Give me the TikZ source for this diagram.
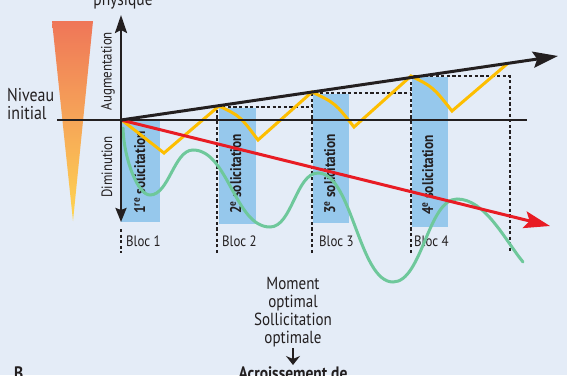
\documentclass[tikz,border=0pt]{standalone}
\usepackage{fontspec}
\setmainfont{PT Sans}[FakeStretch=0.86]
\usetikzlibrary{arrows.meta}
\definecolor{bg}{RGB}{228,236,247}
\definecolor{blocblue}{RGB}{150,200,236}
\definecolor{ink}{RGB}{35,31,32}
\definecolor{gold}{RGB}{253,190,0}
\definecolor{mint}{RGB}{110,200,155}
\definecolor{redline}{RGB}{232,28,36}
\definecolor{trtop}{RGB}{239,118,88}
\definecolor{trmid}{RGB}{246,166,88}
\definecolor{trbot}{RGB}{255,214,80}
\tikzset{
  blocrect/.style={fill=blocblue, draw=none},
  dashline/.style={draw=ink, line width=2.8pt, dash pattern=on 3.2pt off 2.4pt},
  sollabel/.style={rotate=90, text=ink, font=\bfseries\fontsize{15.5}{17}\selectfont, inner sep=0pt, anchor=base west},
  bloclabel/.style={text=ink, font=\fontsize{15}{17}\selectfont, inner sep=0pt, anchor=base west},
  axislabel/.style={rotate=90, text=ink, font=\fontsize{15}{17}\selectfont, inner sep=0pt},
  bigtext/.style={text=ink, font=\fontsize{17.5}{18}\selectfont, inner sep=0pt, align=center},
  lefttext/.style={text=ink, font=\fontsize{18.5}{17}\selectfont, inner sep=0pt, anchor=base west},
}
\begin{document}
\begin{tikzpicture}[x=1pt,y=-1pt]
\fill[bg] (0,0) rectangle (567,375);
\useasboundingbox (0,0) rectangle (567,375);

% gradient triangle
\shade[top color=trtop, bottom color=trbot, middle color=trmid]
  (52,21) -- (93,21) -- (73,221) -- cycle;

% texts left and top
\node[lefttext] (niveau) at (7,101) {Niveau};
\node[lefttext] (initial) at (7,119) {initial};
\node[text=ink, font=\fontsize{18}{18}\selectfont, inner sep=0pt, anchor=base] (phys) at (123,5) {physique};
\node[axislabel] (augm) at (108,71) {Augmentation};
\node[axislabel] (dimi) at (107,167) {Diminution};

% blue blocks
\fill[blocrect] (121,121) rectangle (160,222);
\fill[blocrect] (219,108) rectangle (256,224);
\fill[blocrect] (313,94) rectangle (349,223);
\fill[blocrect] (412,77) rectangle (448,227);

% block labels
\node[sollabel] (s1) at (145,214) {1\textsuperscript{re} solicitation};
\node[sollabel] (s2) at (241,214) {2\textsuperscript{e} solicitation};
\node[sollabel] (s3) at (335,214) {3\textsuperscript{e} solicitation};
\node[sollabel] (s4) at (433,215) {4\textsuperscript{e} solicitation};

\node[bloclabel] (b1) at (126,246) {Bloc 1};
\node[bloclabel] (b2) at (222,246) {Bloc 2};
\node[bloclabel] (b3) at (319,246) {Bloc 3};
\node[bloclabel] (b4) at (414,246) {Bloc 4};

% dashed staircase
\draw[dashline] (121,229) -- (121,253);
\draw[dashline] (217,253) -- (217,107) -- (312,107);
\draw[dashline] (312,253) -- (312,93) -- (411,93);
\draw[dashline] (411,253) -- (411,76) -- (510,76) -- (510,253);

% green curve
\draw[mint, line width=3pt, line cap=round]
  (123,128) .. controls (124,160) and (138,195) .. (150,195)
  .. controls (169,195) and (174,150) .. (193,150)
  .. controls (228,150) and (235,227) .. (270,227)
  .. controls (292,227) and (296,173) .. (318,173)
  .. controls (352,173) and (359,282) .. (393,282)
  .. controls (422,282) and (428,199) .. (457,199)
  .. controls (485,199) and (505,240) .. (523,262);

% yellow zigzag
\draw[gold, line width=3pt, line join=miter]
  (123,121) -- (164,153) -- (219,106)
  .. controls (240,116) .. (258,140) -- (312,92)
  .. controls (335,103) .. (354,127) -- (411,76)
  .. controls (433,87) .. (452,111) -- (507,64);

% axes
\coordinate (O) at (121,120);
\coordinate (L) at (57,120);
\coordinate (R) at (527,120);
\coordinate (T) at (121,15);
\coordinate (B) at (121,222);
\draw[ink, line width=2.6pt] (L) -- (R);

% red trend
\coordinate (redend) at (550,226);
\draw[redline, line width=3pt, -{Stealth[length=26pt,width=17pt,inset=5pt]}] (O) -- (redend);

\draw[ink, line width=2.4pt, {Stealth[length=14pt,width=11pt,inset=2pt]}-{Stealth[length=18pt,width=12pt,inset=3pt]}] (B) -- (T);

% black trend
\coordinate (blackend) at (558,56);
\draw[ink, line width=3pt, -{Stealth[length=25pt,width=16pt,inset=4pt]}] (O) -- (blackend);

% bottom texts
\node[bigtext, anchor=base] (moment) at (293,343) {Moment\\optimal\\Sollicitation\\optimale};
\coordinate (arrtop) at (293,348);
\coordinate (arrbot) at (293,365);
\draw[ink, line width=2pt, -{Stealth[length=9pt,width=14pt,inset=3pt]}] (arrtop) -- (arrbot);
\node[text=ink, font=\bfseries\fontsize{18}{18}\selectfont, inner sep=0pt, anchor=base] (accr) at (293,379) {Acroissement de};
\node[text=ink, font=\bfseries\fontsize{18}{18}\selectfont, inner sep=0pt, anchor=base west] (Bl) at (14,379) {B};
\end{tikzpicture}
\end{document}
